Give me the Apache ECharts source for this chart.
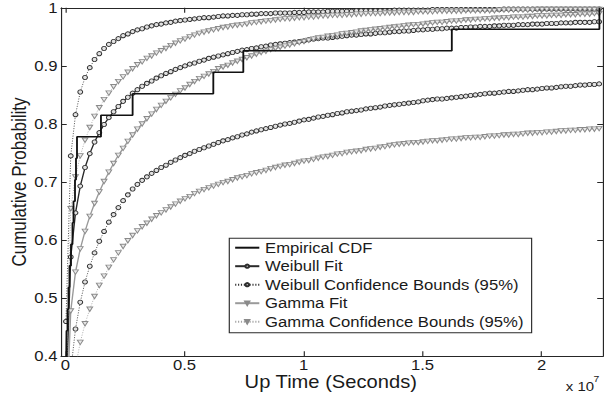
<!DOCTYPE html>
<html>
<head>
<meta charset="utf-8">
<script src="https://cdn.jsdelivr.net/npm/echarts@6/dist/echarts.min.js"></script>
<style>
  html, body { margin: 0; padding: 0; background: #fff; overflow: hidden; }
  #wrap { width: 604px; height: 398px; overflow: hidden; }
  /* the figure is laid out at 525px and widened to 604px */
  #chart { width: 525px; height: 398px; transform: scaleX(1.150476); transform-origin: 0 0; }
</style>
</head>
<body>
<div id="wrap"><div id="chart"></div></div>
<script>
// Up time in units of 10^7 seconds, shared by every fitted curve
const upTime = [
  0.002,0.022,0.042,0.062,0.082,0.102,0.122,0.142,0.162,0.182,
  0.202,0.222,0.242,0.262,0.282,0.302,0.322,0.342,0.362,0.382,
  0.402,0.422,0.442,0.462,0.482,0.502,0.522,0.542,0.562,0.582,
  0.602,0.622,0.642,0.662,0.682,0.702,0.722,0.742,0.762,0.782,
  0.802,0.822,0.842,0.862,0.882,0.902,0.922,0.942,0.962,0.982,
  1.002,1.022,1.042,1.062,1.082,1.102,1.122,1.142,1.162,1.182,
  1.202,1.222,1.242,1.262,1.282,1.302,1.322,1.342,1.362,1.382,
  1.402,1.422,1.442,1.462,1.482,1.502,1.522,1.542,1.562,1.582,
  1.602,1.622,1.642,1.662,1.682,1.702,1.722,1.742,1.762,1.782,
  1.802,1.822,1.842,1.862,1.882,1.902,1.922,1.942,1.962,1.982,
  2.002,2.022,2.042,2.062,2.082,2.102,2.122,2.142,2.162,2.182,
  2.202,2.222,2.242
];

const weibullFit = [
  0.325,0.571,0.647,0.693,0.725,0.749,0.769,0.785,0.799,0.811,
  0.821,0.830,0.839,0.846,0.853,0.859,0.865,0.870,0.874,0.879,
  0.883,0.887,0.890,0.894,0.897,0.900,0.903,0.905,0.908,0.910,
  0.913,0.915,0.917,0.919,0.921,0.923,0.925,0.927,0.928,0.930,
  0.931,0.933,0.934,0.936,0.937,0.938,0.939,0.940,0.941,0.942,
  0.943,0.945,0.946,0.947,0.948,0.948,0.949,0.950,0.951,0.952,
  0.953,0.953,0.954,0.955,0.955,0.956,0.957,0.957,0.958,0.959,
  0.959,0.960,0.960,0.961,0.962,0.962,0.963,0.963,0.964,0.964,
  0.965,0.965,0.965,0.966,0.966,0.967,0.967,0.968,0.968,0.968,
  0.969,0.969,0.970,0.970,0.970,0.971,0.971,0.971,0.972,0.972,
  0.972,0.973,0.973,0.973,0.974,0.974,0.974,0.975,0.975,0.975,
  0.975,0.976,0.976
];

const weibullUpper = [
  0.460,0.745,0.816,0.855,0.880,0.897,0.911,0.921,0.930,0.937,
  0.942,0.947,0.952,0.955,0.959,0.962,0.964,0.967,0.969,0.971,
  0.972,0.974,0.975,0.977,0.978,0.979,0.980,0.981,0.982,0.983,
  0.983,0.984,0.985,0.986,0.986,0.987,0.987,0.988,0.988,0.989,
  0.989,0.990,0.990,0.990,0.991,0.991,0.991,0.991,0.992,0.992,
  0.992,0.993,0.993,0.993,0.993,0.994,0.994,0.994,0.994,0.994,
  0.994,0.995,0.995,0.995,0.995,0.995,0.995,0.995,0.995,0.996,
  0.996,0.996,0.996,0.996,0.996,0.996,0.996,0.997,0.997,0.997,
  0.997,0.997,0.997,0.997,0.997,0.997,0.997,0.997,0.997,0.997,
  0.997,0.997,0.998,0.998,0.998,0.998,0.998,0.998,0.998,0.998,
  0.998,0.998,0.998,0.998,0.998,0.998,0.998,0.998,0.998,0.998,
  0.998,0.998,0.998
];

const weibullLower = [
  0.182,0.375,0.447,0.493,0.528,0.555,0.578,0.598,0.615,0.631,
  0.644,0.656,0.668,0.678,0.688,0.696,0.703,0.709,0.715,0.720,
  0.725,0.729,0.734,0.738,0.742,0.746,0.749,0.753,0.756,0.759,
  0.762,0.765,0.768,0.771,0.773,0.776,0.778,0.781,0.783,0.786,
  0.788,0.790,0.792,0.794,0.796,0.798,0.800,0.801,0.803,0.805,
  0.807,0.808,0.810,0.812,0.813,0.815,0.816,0.818,0.819,0.821,
  0.822,0.823,0.824,0.826,0.827,0.828,0.829,0.831,0.832,0.833,
  0.834,0.835,0.836,0.837,0.838,0.840,0.841,0.842,0.843,0.843,
  0.844,0.845,0.846,0.847,0.848,0.849,0.850,0.851,0.852,0.853,
  0.853,0.854,0.855,0.856,0.856,0.857,0.858,0.859,0.859,0.860,
  0.861,0.862,0.862,0.863,0.864,0.865,0.865,0.866,0.867,0.867,
  0.868,0.868,0.869
];

const gammaFit = [
  0.270,0.478,0.545,0.585,0.615,0.641,0.663,0.683,0.701,0.717,
  0.732,0.746,0.758,0.770,0.781,0.791,0.800,0.809,0.817,0.825,
  0.832,0.839,0.845,0.851,0.857,0.862,0.868,0.873,0.878,0.882,
  0.886,0.890,0.895,0.898,0.901,0.905,0.908,0.911,0.914,0.917,
  0.920,0.923,0.925,0.928,0.930,0.932,0.934,0.936,0.938,0.940,
  0.942,0.944,0.946,0.948,0.949,0.951,0.952,0.953,0.955,0.956,
  0.957,0.958,0.960,0.961,0.962,0.963,0.964,0.965,0.966,0.967,
  0.968,0.969,0.970,0.971,0.971,0.972,0.973,0.974,0.975,0.975,
  0.976,0.977,0.977,0.978,0.979,0.979,0.980,0.980,0.981,0.981,
  0.982,0.982,0.983,0.983,0.984,0.984,0.984,0.985,0.985,0.986,
  0.986,0.986,0.987,0.987,0.987,0.988,0.988,0.988,0.989,0.989,
  0.989,0.990,0.990
];

const gammaUpper = [
  0.332,0.654,0.709,0.745,0.772,0.794,0.813,0.828,0.842,0.853,
  0.864,0.873,0.881,0.889,0.895,0.902,0.907,0.913,0.917,0.922,
  0.926,0.930,0.935,0.939,0.943,0.946,0.950,0.953,0.956,0.958,
  0.960,0.962,0.964,0.966,0.967,0.969,0.970,0.971,0.972,0.974,
  0.975,0.976,0.977,0.978,0.979,0.980,0.981,0.981,0.982,0.983,
  0.983,0.984,0.984,0.985,0.986,0.986,0.987,0.987,0.987,0.988,
  0.988,0.989,0.989,0.990,0.990,0.990,0.990,0.991,0.991,0.991,
  0.992,0.992,0.992,0.992,0.993,0.993,0.993,0.993,0.994,0.994,
  0.994,0.994,0.994,0.994,0.995,0.995,0.995,0.995,0.995,0.995,
  0.995,0.996,0.996,0.996,0.996,0.996,0.996,0.996,0.996,0.997,
  0.997,0.997,0.997,0.997,0.997,0.997,0.997,0.997,0.997,0.997,
  0.997,0.997,0.997
];

const gammaLower = [
  0.153,0.319,0.382,0.424,0.456,0.481,0.503,0.522,0.538,0.553,
  0.566,0.578,0.589,0.599,0.608,0.616,0.623,0.629,0.636,0.642,
  0.647,0.652,0.657,0.662,0.667,0.671,0.675,0.680,0.684,0.687,
  0.690,0.693,0.696,0.699,0.701,0.704,0.707,0.709,0.711,0.714,
  0.716,0.718,0.720,0.723,0.725,0.727,0.729,0.730,0.732,0.734,
  0.736,0.737,0.739,0.741,0.743,0.744,0.746,0.748,0.749,0.751,
  0.752,0.753,0.754,0.756,0.757,0.758,0.760,0.761,0.763,0.764,
  0.765,0.766,0.767,0.768,0.768,0.769,0.770,0.771,0.771,0.772,
  0.773,0.774,0.774,0.775,0.776,0.776,0.777,0.777,0.778,0.779,
  0.779,0.780,0.781,0.781,0.782,0.782,0.783,0.784,0.784,0.785,
  0.785,0.786,0.786,0.787,0.788,0.788,0.789,0.789,0.790,0.790,
  0.791,0.791,0.792
];

// Empirical CDF: observed up times (10^7 s) and the cumulative fraction after each
const ecdfTime = [
  0.0001,0.0003,0.0005,0.0007,0.0009,0.0012,0.0015,0.0018,0.0022,0.0027,
  0.0033,0.0042,0.0084,0.0126,0.0168,0.0231,0.0294,0.0336,0.0399,0.0441,
  0.0483,0.149,0.282,0.621,0.747,1.623,2.243
];
const ecdfProb = [
  0.037,0.074,0.111,0.148,0.185,0.222,0.259,0.296,0.333,0.370,
  0.407,0.444,0.481,0.519,0.556,0.593,0.630,0.667,0.704,0.741,
  0.778,0.815,0.852,0.889,0.926,0.963,1.000
];

const xTicks = [0, 0.5, 1, 1.5, 2];

const NAMES = {
  ecdf: 'Empirical CDF',
  wFit: 'Weibull Fit',
  wBounds: 'Weibull Confidence Bounds (95%)',
  gFit: 'Gamma Fit',
  gBounds: 'Gamma Confidence Bounds (95%)'
};

const FONT = '"Liberation Sans", Arial, Helvetica, sans-serif';
const INK = '#1a1a1a';
const AXIS = '#262626';

const pairs = ys => upTime.map((t, i) => [t, ys[i]]);

const circleMark = { color: '#e2e2e2', borderColor: '#2e2e2e', borderWidth: 0.9 };
const triMark = { color: '#e8e8e8', borderColor: '#8a8a8a', borderWidth: 0.9 };

function curve(name, ys, lineStyle, marker, isGamma) {
  return {
    name: name,
    type: 'line',
    data: pairs(ys),
    symbol: isGamma ? 'triangle' : 'circle',
    symbolRotate: isGamma ? 180 : 0,
    symbolSize: isGamma ? [5, 4.5] : 4.2,
    showSymbol: true,
    showAllSymbol: true,
    clip: true,
    lineStyle: lineStyle,
    itemStyle: marker,
    emphasis: { disabled: true },
    z: 2
  };
}

const chart = echarts.init(document.getElementById('chart'), null, { renderer: 'svg' });

const option = {
  animation: false,
  backgroundColor: '#fff',
  textStyle: { fontFamily: FONT },
  grid: { left: 53, right: 0.9, top: 7.8, bottom: 41.7, containLabel: false },
  xAxis: [
    {
      type: 'value', min: -0.019, max: 2.258,
      axisLine: { show: true, onZero: false, lineStyle: { color: AXIS, width: 1 } },
      axisTick: { show: true, inside: true, length: 5, customValues: xTicks, lineStyle: { color: AXIS } },
      axisLabel: { customValues: xTicks, margin: 1, fontSize: 14.5, color: INK, fontFamily: FONT,
                   formatter: v => String(v) },
      splitLine: { show: false }
    },
    {
      type: 'value', position: 'top', min: -0.019, max: 2.258,
      axisLine: { show: true, onZero: false, lineStyle: { color: AXIS, width: 1 } },
      axisTick: { show: true, inside: true, length: 5, customValues: xTicks, lineStyle: { color: AXIS } },
      axisLabel: { show: false },
      splitLine: { show: false }
    }
  ],
  yAxis: [
    {
      type: 'value', min: 0.4, max: 1, interval: 0.1,
      axisLine: { show: true, onZero: false, lineStyle: { color: AXIS, width: 1 } },
      axisTick: { show: true, inside: true, length: 5, lineStyle: { color: AXIS } },
      axisLabel: { margin: 3, fontSize: 14.5, color: INK, fontFamily: FONT },
      splitLine: { show: false }
    },
    {
      type: 'value', position: 'right', min: 0.4, max: 1, interval: 0.1,
      axisLine: { show: true, onZero: false, lineStyle: { color: AXIS, width: 1 } },
      axisTick: { show: true, inside: true, length: 5, lineStyle: { color: AXIS } },
      axisLabel: { show: false },
      splitLine: { show: false }
    }
  ],
  legend: {
    data: [
      { name: NAMES.ecdf, itemStyle: { opacity: 0 } },
      NAMES.wFit, NAMES.wBounds, NAMES.gFit, NAMES.gBounds
    ],
    orient: 'vertical',
    left: 203.4, top: 238.45,
    padding: 0, itemGap: 0,
    itemWidth: 21, itemHeight: 4,
    textStyle: { fontSize: 14.5, color: INK, fontFamily: FONT, lineHeight: 18.5 },
    selectedMode: false,
    z: 12
  },
  graphic: [
    {
      type: 'rect', x: 199.3, y: 238.3, z: 11,
      shape: { x: 0, y: 0, width: 262.8, height: 94.4 },
      style: { fill: '#fff', stroke: '#2a2a2a', lineWidth: 1 }
    },
    {
      type: 'text', x: 16.5, y: 182, rotation: Math.PI / 2, z: 11,
      style: { text: 'Cumulative Probability', font: '17px ' + FONT, fill: INK,
               align: 'center', verticalAlign: 'middle' }
    },
    {
      type: 'text', x: 287.5, y: 381.5, z: 11,
      style: { text: 'Up Time (Seconds)', font: '17.5px ' + FONT, fill: INK,
               align: 'center', verticalAlign: 'middle' }
    },
    {
      type: 'text', x: 504.1, y: 386.5, z: 11,
      style: { text: 'x 10', font: '13px ' + FONT, fill: INK,
               align: 'center', verticalAlign: 'middle' }
    },
    {
      type: 'text', x: 518.4, y: 379, z: 11,
      style: { text: '7', font: '9px ' + FONT, fill: INK,
               align: 'center', verticalAlign: 'middle' }
    }
  ],
  series: [
    {
      name: NAMES.ecdf,
      type: 'line',
      step: 'end',
      data: ecdfTime.map((t, i) => [t, ecdfProb[i]]),
      symbol: 'none',
      clip: true,
      lineStyle: { color: '#111', width: 1.6 },
      itemStyle: { color: '#111' },
      emphasis: { disabled: true },
      z: 3
    },
    curve(NAMES.wFit, weibullFit, { color: '#2a2a2a', width: 1.2 }, circleMark, false),
    curve(NAMES.wBounds, weibullUpper, { color: '#333', width: 0.8, type: [1, 1.5] }, circleMark, false),
    curve(NAMES.wBounds, weibullLower, { color: '#333', width: 0.8, type: [1, 1.5] }, circleMark, false),
    curve(NAMES.gFit, gammaFit, { color: '#9a9a9a', width: 1.2 }, triMark, true),
    curve(NAMES.gBounds, gammaUpper, { color: '#a3a3a3', width: 0.8, type: [1, 1.5] }, triMark, true),
    curve(NAMES.gBounds, gammaLower, { color: '#a3a3a3', width: 0.8, type: [1, 1.5] }, triMark, true)
  ]
};

chart.setOption(option);
</script>
</body>
</html>
